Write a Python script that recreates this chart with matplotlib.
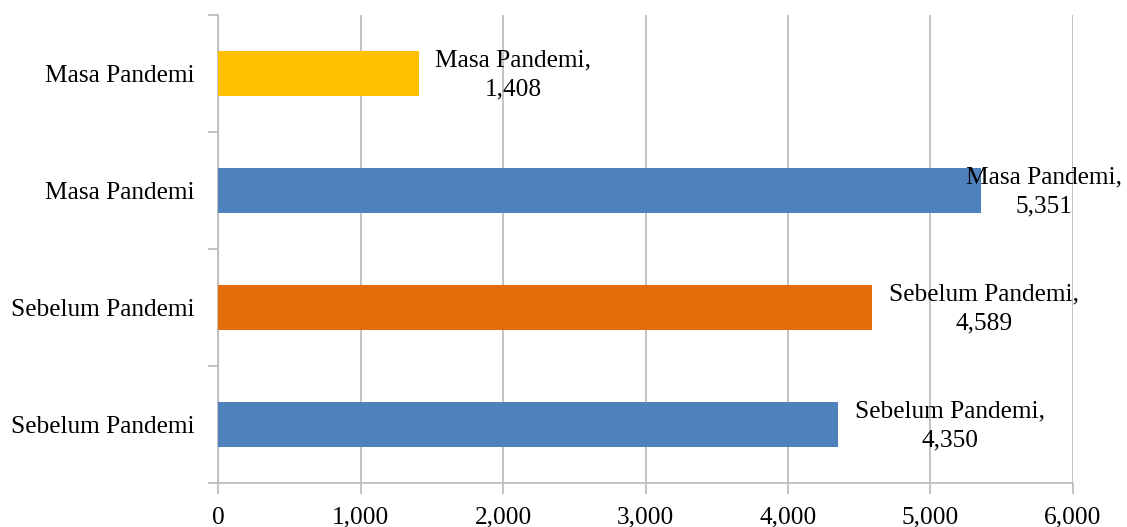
import matplotlib
matplotlib.use("Agg")
import matplotlib.pyplot as plt
from matplotlib.ticker import FuncFormatter, FixedLocator

# Data (bottom to top)
categories = ["Sebelum Pandemi", "Sebelum Pandemi", "Masa Pandemi", "Masa Pandemi"]
values = [4350, 4589, 5351, 1408]
colors = ["#4F81BD", "#E46C0A", "#4F81BD", "#FFC000"]
x_ticks = [0, 1000, 2000, 3000, 4000, 5000, 6000]

plt.rcParams["font.family"] = ["Liberation Serif", "DejaVu Serif"]

W, H, DPI = 1127, 527, 100
FS = 18.3
fig = plt.figure(figsize=(W / DPI, H / DPI), dpi=DPI)
ax = fig.add_axes([218 / W, (H - 483) / H, (1073 - 218) / W, (483 - 15) / H])

pos = list(range(len(values)))
ax.barh(pos, values, height=0.39, color=colors, zorder=3)

grid_c = "#BEBEBE"
ax.set_xlim(0, 6000)
ax.set_ylim(-0.5, len(values) - 0.5)
ax.set_xticks(x_ticks)
ax.xaxis.set_major_formatter(FuncFormatter(lambda v, p: f"{int(v):,}"))
ax.grid(axis="x", color=grid_c, linewidth=1.3, zorder=0)

# category boundaries get tick marks, labels sit at category centres
ax.yaxis.set_major_locator(FixedLocator([i - 0.5 for i in range(len(values) + 1)]))
ax.yaxis.set_minor_locator(FixedLocator(pos))
ax.set_yticklabels([], minor=False)
ax.set_yticklabels(categories, minor=True)
ax.tick_params(axis="y", which="major", length=7, width=1.3, color=grid_c, direction="out")
ax.tick_params(axis="y", which="minor", length=0, pad=17, labelsize=FS)
ax.tick_params(axis="x", length=8, width=1.3, color=grid_c, direction="out",
               labelsize=FS, pad=9)

for s in ["top", "right"]:
    ax.spines[s].set_visible(False)
for s in ["left", "bottom"]:
    ax.spines[s].set_color(grid_c)
    ax.spines[s].set_linewidth(1.3)

# data labels to the right of each bar, kept inside the figure
fig.canvas.draw()
renderer = fig.canvas.get_renderer()
for i, (cat, v) in enumerate(zip(categories, values)):
    t = ax.annotate(f"{cat},\n{v:,}", xy=(v, i), xytext=(12, -1),
                    textcoords="offset points", ha="left", va="center",
                    multialignment="center", fontsize=FS, zorder=4,
                    linespacing=1.4)
    bb = t.get_window_extent(renderer)
    overflow = bb.x1 - (W - 5)
    if overflow > 0:
        t.set_position((12 - overflow * 72 / DPI, -1))

fig.savefig("out.png", dpi=DPI, facecolor="white")
